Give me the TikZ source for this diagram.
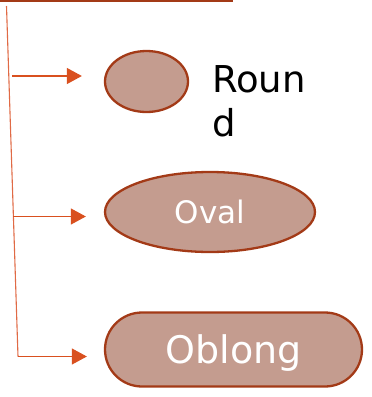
\documentclass[tikz,border=0pt]{standalone}
\usepackage{fontspec}
\setmainfont{DejaVu Sans}
\usetikzlibrary{arrows.meta,shapes.geometric,shapes.misc}
\definecolor{rust}{HTML}{A33A17}
\definecolor{shapefill}{HTML}{C49C8F}
\definecolor{arrowc}{HTML}{D9501F}
\definecolor{trunkc}{HTML}{E06A45}
\tikzset{
  shapebox/.style={draw=rust, line width=2.3pt, fill=shapefill, inner sep=0pt},
  link/.style={draw=arrowc, line width=1.1pt, -{Triangle[length=15pt,width=16pt]}},
  trunk/.style={draw=trunkc, line width=1.1pt}
}
\begin{document}
\begin{tikzpicture}[x=1pt,y=-1pt]
\useasboundingbox (0,0) rectangle (372,397);
% top line
\coordinate (tl) at (0,1);
\coordinate (tr) at (233,1);
\draw[draw=rust, line width=1.6pt] (tl) -- (tr);
% shapes
\node[shapebox, ellipse, minimum width=83pt, minimum height=61pt] (round) at (146.5,81.5) {};
\node[anchor=north west, align=left, inner sep=0pt, font=\fontsize{37}{44}\selectfont] (roundlbl) at (212,65) {Roun\\d};
\node[shapebox, ellipse, minimum width=210pt, minimum height=80pt, text=white, font=\fontsize{31}{36}\selectfont] (oval) at (210,212) {\raisebox{-2pt}{Oval}};
\node[shapebox, rounded corners=37pt, minimum width=257pt, minimum height=74pt, text=white, text depth=0pt, font=\fontsize{38}{44}\selectfont] (oblong) at (233.5,349.5) {Oblong};
% trunk
\coordinate (ttop) at (6.5,6);
\coordinate (b1) at (12,76);
\coordinate (b2) at (13,216.5);
\coordinate (tbot) at (18,356.5);
\draw[trunk] (ttop) -- (tbot);
\draw[link, shorten >=22pt] (b1) -- (b1 -| round.west);
\draw[link, shorten >=18pt] (b2) -- (b2 -| oval.west);
\draw[link, shorten >=17pt] (tbot) -- (tbot -| oblong.west);
\end{tikzpicture}
\end{document}
